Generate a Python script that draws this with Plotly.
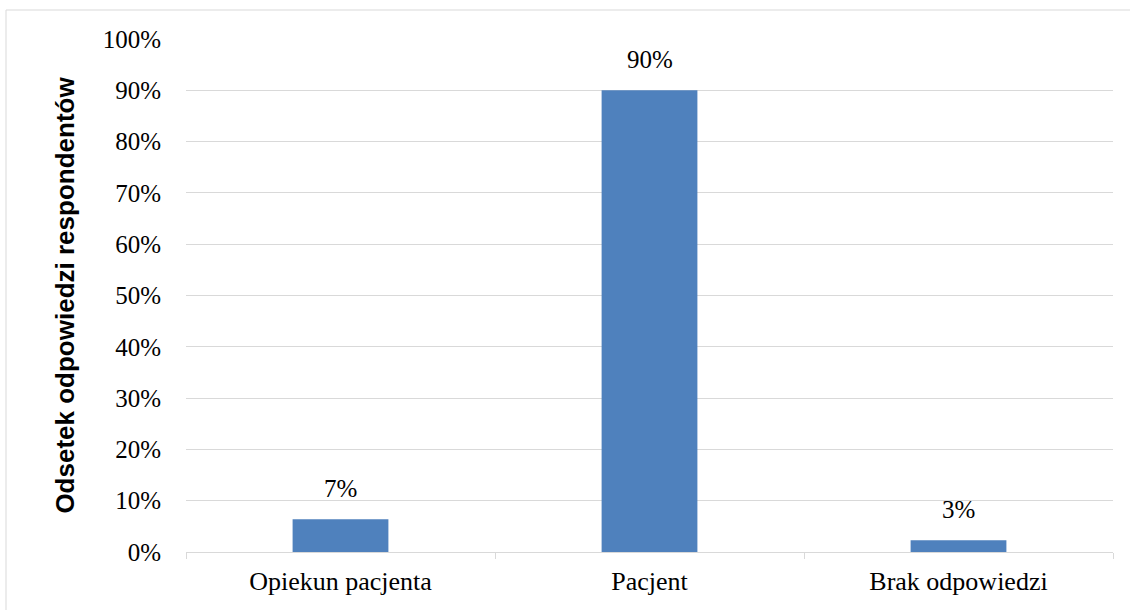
import plotly.graph_objects as go

categories = ["Opiekun pacjenta", "Pacjent", "Brak odpowiedzi"]
values = [6.4, 90.0, 2.3]
value_labels = ["7%", "90%", "3%"]
y_ticks = [0, 10, 20, 30, 40, 50, 60, 70, 80, 90, 100]
y_tick_labels = [f"{v}%" for v in y_ticks]

W, H = 1130, 610
L, R, T, B = 186, 17, 39, 58
pw = W - L - R
ph = H - T - B

fig = go.Figure()
fig.add_trace(go.Bar(
    x=categories, y=values,
    marker=dict(color="#4F81BD", line=dict(width=0)),
    width=0.31,
    hoverinfo="x+y",
))

for c, v, t in zip(categories, values, value_labels):
    fig.add_annotation(
        x=c, y=v, text=t, showarrow=False,
        xanchor="center", yanchor="bottom", yshift=15,
        font=dict(family="Liberation Serif", size=25, color="#000000"),
    )

fig.update_layout(
    width=W, height=H,
    margin=dict(l=L, r=R, t=T, b=B),
    paper_bgcolor="white", plot_bgcolor="white",
    showlegend=False,
    bargap=0.69,
    xaxis=dict(
        tickfont=dict(family="Liberation Serif", size=26, color="#000000"),
        showgrid=False,
        showline=True, linecolor="#D9D9D9", linewidth=1,
        ticks="outside", tickson="boundaries", ticklen=6, tickcolor="#D9D9D9",
        ticklabelstandoff=6,
    ),
    yaxis=dict(
        range=[0, 100],
        tickvals=y_ticks, ticktext=y_tick_labels,
        tickfont=dict(family="Liberation Serif", size=25, color="#000000"),
        showgrid=True, gridcolor="#D9D9D9", gridwidth=1,
        zeroline=False, showline=False,
        ticklabelstandoff=24,
        title=dict(text="<b>Odsetek odpowiedzi respondentów</b>",
                   font=dict(family="Liberation Sans", size=26, color="#000000"),
                   standoff=20),
    ),
)

fig.add_shape(
    type="rect", xref="paper", yref="paper",
    x0=(6 - L) / pw, x1=(W + 5 - L) / pw,
    y0=(H - (H + 5) - B) / ph, y1=(H - 10 - B) / ph,
    line=dict(color="#D9D9D9", width=1), fillcolor="rgba(0,0,0,0)",
    layer="below",
)

fig.write_html("out.html")
